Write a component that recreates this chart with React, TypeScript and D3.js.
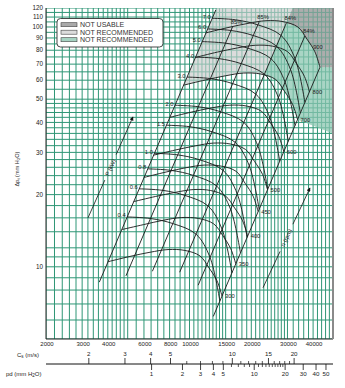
import React from "react";
import * as d3 from "d3";

type Pt = [number, number];

// ---------- axes / ticks ----------
const qTicks = [2000, 3000, 4000, 6000, 8000, 10000, 15000, 20000, 30000, 40000];
const pTicks = [10, 20, 30, 40, 50, 60, 70, 80, 90, 100, 110, 120];
const gridQ = [2000, 2200, 2400, 2600, 2800, 3000, 3200, 3400, 3600, 3800, 4000, 4200, 4400, 4600, 4800, 5000,
  5500, 6000, 6500, 7000, 7500, 8000, 8500, 9000, 9500, 10000, 10500, 11000, 11500, 12000, 12500, 13000, 13500,
  14000, 14500, 15000, 16000, 17000, 18000, 19000, 20000, 21000, 22000, 23000, 24000, 25000, 26000, 27000, 28000,
  29000, 30000, 32000, 34000, 36000, 38000, 40000, 42000, 44000, 46000, 48000, 50000];
const gridP = [5, 6, 7, 8, 9, 10, 11, 12, 14, 16, 18, 20, 22, 24, 26, 28, 30, 32, 34, 36, 38, 40, 42, 44, 46, 48, 50,
  55, 60, 65, 70, 75, 80, 85, 90, 95, 100, 105, 110, 115, 120];
const csMajor = [2, 3, 4, 5, 10, 15, 20];
const csMinor = [6, 7, 8, 9, 11, 12, 13, 14, 16, 17, 18, 19];
const pdMajor = [1, 2, 3, 4, 5, 10, 20, 30, 40, 50];
const pdMinor = [6, 7, 8, 9, 11, 12, 13, 14, 15, 16, 17, 18, 19];

// ---------- rpm curves (Q m3/h, dpt mm H2O) ----------
const rpmLabels = [300, 350, 400, 450, 500, 600, 700, 800, 900];
const rpm300: Pt[] = [[4010, 10.5], [5130, 11.05], [6420, 11.5], [7860, 11.8], [9510, 11.7], [11250, 11.1], [12440, 9.9], [13610, 8.75], [14400, 7.55]];
const rpm350: Pt[] = [[4680, 14.3], [5985, 15.0], [7490, 15.65], [9170, 16.05], [11095, 15.9], [13125, 15.1], [14515, 13.5], [15880, 11.9], [16800, 10.3]];
const rpm400: Pt[] = [[5345, 18.7], [6840, 19.65], [8560, 20.45], [10480, 21.0], [12680, 20.8], [15000, 19.7], [16585, 17.6], [18145, 15.55], [19200, 13.4]];
const rpm450: Pt[] = [[6015, 23.6], [7695, 24.85], [9630, 25.9], [11790, 26.55], [14265, 26.3], [16875, 25.0], [18660, 22.3], [20415, 19.7], [21600, 17.0]];
const rpm500: Pt[] = [[6685, 29.2], [8550, 30.7], [10700, 31.95], [13100, 32.8], [15850, 32.5], [18750, 30.85], [20735, 27.5], [22685, 24.3], [24000, 20.95]];
const rpm600: Pt[] = [[8020, 42.0], [10260, 44.2], [12840, 46.0], [15720, 47.2], [19020, 46.8], [22500, 44.4], [24880, 39.6], [27220, 35.0], [28800, 30.2]];
const rpm700: Pt[] = [[9355, 57.2], [11970, 60.15], [14980, 62.6], [18340, 64.25], [22190, 63.7], [26250, 60.45], [29025, 53.9], [31755, 47.65], [33600, 41.1]];
const rpm800: Pt[] = [[10695, 74.65], [13680, 78.6], [17120, 81.8], [20960, 83.9], [25360, 83.2], [30000, 78.95], [33175, 70.4], [36295, 62.2], [38400, 53.7]];
const rpm900: Pt[] = [[12030, 94.5], [15390, 99.45], [19260, 103.5], [23580, 106.2], [28530, 105.3], [33750, 99.9], [37320, 89.1], [40830, 78.75], [43200, 67.95]];

// ---------- power curves (kW) ----------
const powerLabels = ["0.4", "0.6", "0.8", "1.0", "1.5", "2.0", "3.0", "4.0", "5.0", "6.0", "7.0"];
const pw04: Pt[] = [[4971, 16.14], [6457, 15.9], [8291, 15.15], [10752, 13.69], [12589, 10.94], [14056, 7.19]];
const pw06: Pt[] = [[5691, 21.14], [7391, 20.84], [9490, 19.85], [12309, 17.94], [14411, 14.33], [16089, 9.43]];
const pw08: Pt[] = [[6263, 25.61], [8134, 25.24], [10445, 24.05], [13547, 21.73], [15857, 17.35], [17708, 11.42]];
const pw10: Pt[] = [[6747, 29.73], [8764, 29.29], [11252, 27.91], [14593, 25.21], [17083, 20.14], [19079, 13.25]];
const pw15: Pt[] = [[7723, 38.95], [10032, 38.39], [12878, 36.56], [16701, 33.02], [19554, 26.38], [21839, 17.37]];
const pw20: Pt[] = [[8501, 47.19], [11041, 46.5], [14178, 44.31], [18385, 40.02], [21519, 31.95], [24036, 21.04]];
const pw30: Pt[] = [[9731, 61.83], [12639, 60.93], [16230, 58.06], [21048, 52.45], [24634, 41.87], [27514, 27.56]];
const pw40: Pt[] = [[10711, 74.91], [13912, 73.82], [17860, 70.32], [23164, 63.52], [27119, 50.74], [30279, 33.38]];
const pw50: Pt[] = [[11535, 86.89], [14983, 85.62], [19241, 81.6], [24952, 73.71], [29221, 58.91], [32633, 38.77]];
const pw60: Pt[] = [[12259, 98.13], [15923, 96.71], [20444, 92.13], [26517, 83.25], [31047, 66.51], [34671, 43.77]];
const pw70: Pt[] = [[12905, 108.74], [16760, 107.14], [21521, 102.09], [27909, 92.22], [32676, 73.67], [36482, 48.46]];

// ---------- efficiency / system lines ----------
const effLabels = ["", "85%", "85%", "84%", "84%", ""];
const effLine0: Pt[] = [[3636, 8.63], [13434, 117.8]];
const effLine1: Pt[] = [[4903, 9.17], [16224, 100.4]];
const effLine2: Pt[] = [[6594, 9.58], [21819, 104.9]];
const effLine3: Pt[] = [[8955, 9.49], [29631, 103.95]];
const effLine4: Pt[] = [[11019, 8.38], [36459, 91.7]];
const effLine5: Pt[] = [[13056, 6.21], [43200, 67.95]];

// ---------- zones ----------
const zoneLightGray: Pt[] = [[9355, 57.2], [11970, 60.15], [14980, 62.6], [18340, 64.25], [22190, 63.7], [23046, 62.88], [31837, 120], [13556, 120]];
const zoneDarkGray: Pt[] = [[29631, 103.95], [33750, 99.9], [36459, 91.7], [37320, 89.1], [40830, 78.75], [43200, 67.95], [50000, 67.95], [50000, 120], [31837, 120]];
const zoneGreen: Pt[] = [[23046, 62.88], [29631, 103.95], [33750, 99.9], [36459, 91.7], [37320, 89.1], [40830, 78.75], [43200, 67.95], [50000, 67.95], [50000, 36], [33600, 41.1], [31755, 47.65], [29025, 53.9], [28357, 55.48], [26250, 60.45]];

const legendItems = ["NOT USABLE", "NOT RECOMMENDED", "NOT RECOMMENDED"];

// annotation arrows
const pArrow: Pt[] = [[3203, 16.0], [5305, 42.2]];
const nArrow: Pt[] = [[22806, 8.18], [38636, 21.34]];

const OUTLET_AREA = 0.449; // m2
const RHO = 1.2;

const FONT = "'Liberation Sans', Arial, Helvetica, sans-serif";
const GRID = "#2f9676";

export default function App() {
  const L = 46, R = 333, T = 8, B = 339;
  const x = d3.scaleLog().domain([2000, 50000]).range([L, R]);
  const y = d3.scaleLog().domain([5, 120]).range([B, T]);
  const csX = (cs: number) => x(cs * OUTLET_AREA * 3600);
  const pdX = (pd: number) => csX(Math.sqrt((2 * 9.81 * pd) / RHO));

  const smooth = d3.line<Pt>().x(d => x(d[0])).y(d => y(d[1])).curve(d3.curveCatmullRom.alpha(0.5));
  const straight = d3.line<Pt>().x(d => x(d[0])).y(d => y(d[1]));
  const poly = (pts: Pt[]) => straight(pts) + "Z";

  const rpmCurves = [rpm300, rpm350, rpm400, rpm450, rpm500, rpm600, rpm700, rpm800, rpm900];
  const powerCurves = [pw04, pw06, pw08, pw10, pw15, pw20, pw30, pw40, pw50, pw60, pw70];
  const effLines = [effLine0, effLine1, effLine2, effLine3, effLine4, effLine5];

  const arrowParts = (pts: Pt[], gap: number) => {
    const x0 = x(pts[0][0]), y0 = y(pts[0][1]), x1 = x(pts[1][0]), y1 = y(pts[1][1]);
    const len = Math.hypot(x1 - x0, y1 - y0);
    const ux = (x1 - x0) / len, uy = (y1 - y0) / len;
    const mx = (x0 + x1) / 2, my = (y0 + y1) / 2;
    const ang = (Math.atan2(y1 - y0, x1 - x0) * 180) / Math.PI;
    return { x0, y0, x1, y1, mx, my, ang, ax: mx - ux * gap, ay: my - uy * gap, bx: mx + ux * gap, by: my + uy * gap };
  };
  const pA = arrowParts(pArrow, 14);
  const nA = arrowParts(nArrow, 15);

  const lineColor = "#1a1a1a";
  const csLineY = 364;
  const zones: [Pt[], string][] = [[zoneLightGray, "#dcdcdc"], [zoneGreen, "#a9d6c5"], [zoneDarkGray, "#adadad"]];

  return (
    <svg width={345} height={388} style={{ position: "absolute", left: 0, top: 0, background: "#fff" }} fontFamily={FONT}>
      <defs>
        <clipPath id="plotClip"><rect x={L} y={T} width={R - L} height={B - T} /></clipPath>
        <marker id="arrowHead" viewBox="0 0 10 10" refX="9" refY="5" markerWidth="5" markerHeight="5" orient="auto">
          <path d="M0,0 L10,5 L0,10 z" fill="#111" />
        </marker>
      </defs>
      <rect x={L} y={T} width={R - L} height={B - T} fill="#fff" />
      <g clipPath="url(#plotClip)">
        {zones.map(([z, c], i) => <path key={"zb" + i} d={poly(z)} fill={c} />)}
        {gridQ.map(q => <line key={"gq" + q} x1={x(q)} x2={x(q)} y1={T} y2={B} stroke={GRID} strokeWidth={1} />)}
        {gridP.map(p => <line key={"gp" + p} x1={L} x2={R} y1={y(p)} y2={y(p)} stroke={GRID} strokeWidth={1} />)}
        {zones.map(([z, c], i) => <path key={"zt" + i} d={poly(z)} fill={c} opacity={0.55} />)}
        {effLines.map((l, i) => <path key={"e" + i} d={straight(l) || ""} fill="none" stroke={lineColor} strokeWidth={0.9} />)}
        {rpmCurves.map((c, i) => <path key={"r" + i} d={smooth(c) || ""} fill="none" stroke={lineColor} strokeWidth={0.9} />)}
        {powerCurves.map((c, i) => <path key={"p" + i} d={smooth(c) || ""} fill="none" stroke={lineColor} strokeWidth={0.9} />)}
      </g>
      {/* frame */}
      <line x1={L} x2={L} y1={T} y2={B} stroke="#222" strokeWidth={1} />
      <line x1={L} x2={R} y1={B} y2={B} stroke="#222" strokeWidth={1} />
      <line x1={R} x2={R} y1={T} y2={B} stroke="#8a8a8a" strokeWidth={2} />

      {/* y ticks */}
      {pTicks.map(p => (
        <text key={"yt" + p} x={43} y={y(p) + 2.2} fontSize={6.3} textAnchor="end" fill="#222">{p}</text>
      ))}
      <text transform={`translate(19,169) rotate(-90)`} fontSize={5.6} textAnchor="middle" fill="#222">
        Δp<tspan fontSize={4.2} dy={1}>t</tspan><tspan dy={-1}> (mm H</tspan><tspan fontSize={4.2} dy={1}>2</tspan><tspan dy={-1}>O)</tspan>
      </text>

      {/* x ticks */}
      {qTicks.map(q => (
        <text key={"xt" + q} x={x(q) + 1} y={345.5} fontSize={6} textAnchor="middle" fill="#222">{q}</text>
      ))}

      {/* Cs / pd scale */}
      <line x1={L} x2={R} y1={csLineY} y2={csLineY} stroke="#111" strokeWidth={1} />
      {csMajor.map(c => (
        <g key={"cs" + c}>
          <line x1={csX(c)} x2={csX(c)} y1={csLineY - 6} y2={csLineY} stroke="#111" strokeWidth={0.8} />
          <text x={csX(c)} y={356} fontSize={6.2} textAnchor="middle" fill="#222">{c}</text>
        </g>
      ))}
      {csMinor.map(c => <line key={"csm" + c} x1={csX(c)} x2={csX(c)} y1={csLineY - 3} y2={csLineY} stroke="#111" strokeWidth={0.7} />)}
      {pdMajor.map(p => (
        <g key={"pd" + p}>
          <line x1={pdX(p)} x2={pdX(p)} y1={csLineY} y2={csLineY + 6} stroke="#111" strokeWidth={0.8} />
          <text x={pdX(p)} y={375.5} fontSize={6.2} textAnchor="middle" fill="#222">{p}</text>
        </g>
      ))}
      {pdMinor.map(p => <line key={"pdm" + p} x1={pdX(p)} x2={pdX(p)} y1={csLineY} y2={csLineY + 3} stroke="#111" strokeWidth={0.7} />)}
      <text x={17} y={356.5} fontSize={6} fill="#222">C<tspan fontSize={4.5} dy={1}>s</tspan><tspan dy={-1}> (m/s)</tspan></text>
      <text x={6} y={376} fontSize={6} fill="#222">pd (mm H<tspan fontSize={4.5} dy={1}>2</tspan><tspan dy={-1}>O)</tspan></text>

      {/* rpm labels */}
      {rpmCurves.map((c, i) => {
        const e = c[c.length - 1];
        const ex = x(e[0]), ey = y(e[1]);
        const last = i === rpmCurves.length - 1;
        return (
          <text key={"rl" + i} x={last ? ex - 2 : ex + 3} y={last ? ey - 18 : ey + 2} fontSize={5.8}
            textAnchor={last ? "middle" : "start"} fill="#222">{rpmLabels[i]}</text>
        );
      })}
      {/* power labels */}
      {powerCurves.map((c, i) => (
        <text key={"pl" + i} x={x(c[0][0]) - 1.5} y={y(c[0][1]) + 0.5} fontSize={5.8} textAnchor="end" fill="#222">{powerLabels[i]}</text>
      ))}
      {/* efficiency labels */}
      {effLines.map((l, i) => effLabels[i] ? (
        <text key={"el" + i} x={x(l[1][0]) + 4} y={y(l[1][1]) - 3} fontSize={5.8} textAnchor="middle" fill="#222">{effLabels[i]}</text>
      ) : null)}

      {/* P arrow */}
      <line x1={pA.x0} y1={pA.y0} x2={pA.ax} y2={pA.ay} stroke="#111" strokeWidth={0.8} />
      <line x1={pA.bx} y1={pA.by} x2={pA.x1} y2={pA.y1} stroke="#111" strokeWidth={0.8} markerEnd="url(#arrowHead)" />
      <text transform={`translate(${pA.mx},${pA.my}) rotate(${pA.ang})`} fontSize={5.8} textAnchor="middle" dy={2} fill="#222">P (kW)</text>
      {/* n arrow */}
      <line x1={nA.x0} y1={nA.y0} x2={nA.ax} y2={nA.ay} stroke="#111" strokeWidth={0.8} />
      <line x1={nA.bx} y1={nA.by} x2={nA.x1} y2={nA.y1} stroke="#111" strokeWidth={0.8} markerEnd="url(#arrowHead)" />
      <text transform={`translate(${nA.mx},${nA.my}) rotate(${nA.ang})`} fontSize={5.8} textAnchor="middle" dy={2} fill="#222">n (rpm)</text>

      {/* legend */}
      <rect x={57} y={18.5} width={106} height={28.5} rx={3.5} fill="#fff" stroke="#333" strokeWidth={0.9} />
      {legendItems.map((t, i) => (
        <g key={"lg" + i}>
          <rect x={61} y={22.7 + i * 7.5} width={16} height={4} fill={["#a9a9a9", "#dcdcdc", "#a6d3c2"][i]} stroke="#444" strokeWidth={0.6} />
          <text x={80} y={27.3 + i * 7.5} fontSize={7} fill="#333">{t}</text>
        </g>
      ))}
    </svg>
  );
}
